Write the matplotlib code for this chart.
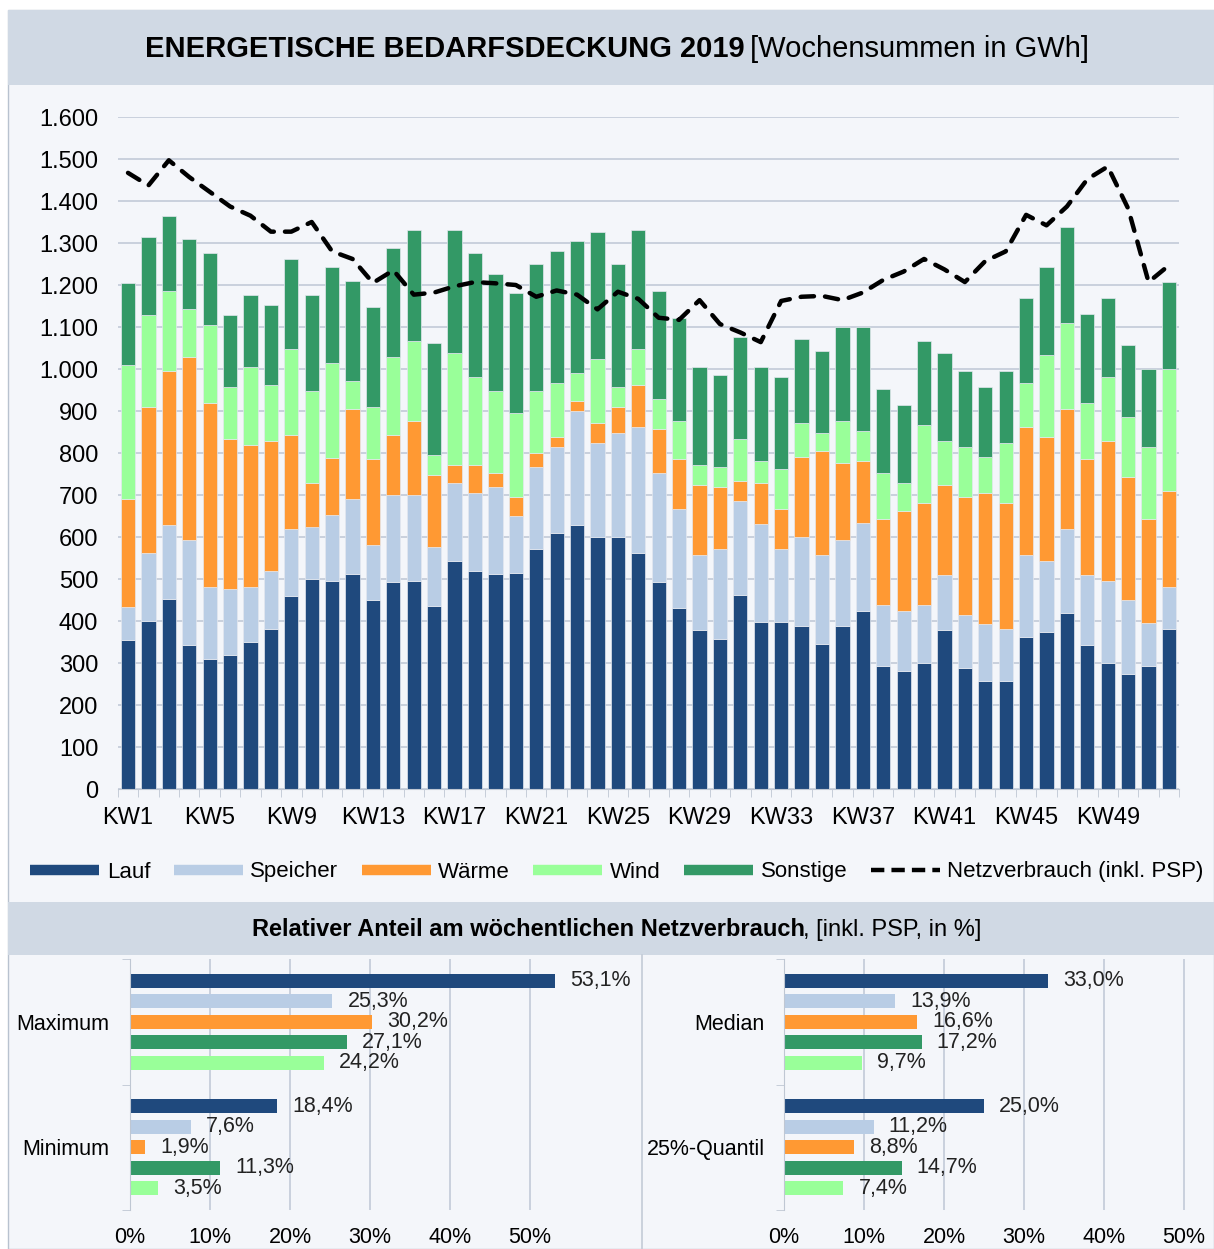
import numpy as np
import matplotlib.pyplot as plt
from matplotlib.lines import Line2D
from matplotlib.patches import Rectangle

plt.rcParams['font.family'] = ['Liberation Sans', 'DejaVu Sans']

# Wochensummen in GWh, KW1 .. KW52
weeks = np.arange(1, 53)
lauf = [354, 401, 453, 344, 310, 320, 349, 382, 459, 501, 496, 511, 449,
        492, 496, 435, 544, 520, 511, 515, 572, 610, 629, 600, 600, 562,
        492, 430, 378, 358, 463, 397, 397, 387, 345, 387, 425, 292, 282,
        301, 378, 287, 258, 258, 363, 373, 420, 344, 301, 273, 292, 382]
speicher = [80, 161, 176, 248, 172, 157, 133, 138, 161, 124, 157, 179, 133,
            208, 204, 141, 184, 184, 209, 134, 195, 204, 271, 224, 247, 300,
            260, 237, 180, 214, 223, 233, 175, 213, 213, 205, 209, 147, 143,
            138, 132, 128, 134, 124, 195, 171, 200, 166, 195, 176, 104, 100]
waerme = [256, 348, 366, 436, 438, 357, 338, 309, 224, 104, 134, 215, 204,
          144, 176, 171, 44, 68, 32, 47, 33, 25, 23, 48, 63, 100,
          105, 119, 166, 148, 48, 99, 95, 191, 247, 184, 147, 205, 237,
          243, 214, 281, 313, 300, 304, 294, 284, 276, 332, 294, 248, 228]
wind = [319, 218, 191, 114, 184, 123, 184, 133, 204, 219, 227, 66, 124,
        184, 190, 49, 265, 208, 196, 200, 147, 127, 68, 152, 47, 86,
        72, 90, 47, 47, 99, 52, 95, 81, 43, 100, 71, 108, 67,
        184, 104, 118, 85, 142, 104, 195, 205, 133, 152, 143, 170, 289]
sonstige = [195, 186, 179, 167, 172, 172, 172, 190, 213, 228, 228, 238, 237,
            261, 266, 265, 295, 296, 279, 284, 304, 314, 313, 303, 294, 284,
            256, 246, 233, 218, 242, 223, 218, 199, 194, 224, 248, 200, 185,
            200, 209, 181, 167, 171, 204, 209, 228, 213, 190, 170, 185, 209]
netz = [1467, 1437, 1497, 1457, 1422, 1387, 1365, 1327, 1327, 1350, 1280,
        1262, 1205, 1235, 1177, 1182, 1197, 1207, 1204, 1200, 1172, 1187,
        1177, 1142, 1184, 1167, 1122, 1117, 1164, 1107, 1087, 1064, 1162,
        1172, 1174, 1164, 1182, 1212, 1232, 1262, 1237, 1207, 1257, 1280,
        1367, 1342, 1387, 1452, 1482, 1382, 1207, 1247]

# relativer Anteil in %: Lauf, Speicher, Wärme, Sonstige, Wind
share_max = [53.1, 25.3, 30.2, 27.1, 24.2]
share_min = [18.4, 7.6, 1.9, 11.3, 3.5]
share_median = [33.0, 13.9, 16.6, 17.2, 9.7]
share_q25 = [25.0, 11.2, 8.8, 14.7, 7.4]

c_lauf = '#1F497D'
c_speicher = '#B9CDE5'
c_waerme = '#FF9933'
c_wind = '#99FF99'
c_sonst = '#339966'
c_band = '#D0D9E4'
c_bg = '#F4F6FA'
c_grid = '#C6CEDA'

W, H = 1214, 1249
fig = plt.figure(figsize=(W / 100, H / 100), dpi=100)
fig.patch.set_facecolor('white')


def px_rect(x0, y0, x1, y1, **kw):
    # Rechteck in Pixelkoordinaten (Ursprung oben links)
    fig.patches.append(Rectangle((x0 / W, 1 - y1 / H), (x1 - x0) / W, (y1 - y0) / H,
                                 transform=fig.transFigure, zorder=-5, **kw))


px_rect(8, 10, W, H, facecolor=c_bg, edgecolor='#B8C2CF', lw=1)
px_rect(8, 10, W, 85, facecolor=c_band, edgecolor='none')
px_rect(8, 902, W, 955, facecolor=c_band, edgecolor='none')
fig.add_artist(Line2D([642 / W, 642 / W], [0, 1 - 955 / H], color='#C3CBD7', lw=1.2,
                      zorder=-4))


def two_part(y, bold, normal, size, gap, cx=617):
    # fetter + normaler Teil, zusammen zentriert
    t1 = fig.text(0, 1 - y / H, bold, fontsize=size, fontweight='bold', va='center', ha='left')
    t2 = fig.text(0, 1 - y / H, normal, fontsize=size, va='center', ha='left')
    r = fig.canvas.get_renderer()
    w1 = t1.get_window_extent(r).width
    w2 = t2.get_window_extent(r).width
    x0 = cx - (w1 + gap + w2) / 2
    t1.set_x(x0 / W)
    t2.set_x((x0 + w1 + gap) / W)


two_part(49, 'ENERGETISCHE BEDARFSDECKUNG 2019', '[Wochensummen in GWh]', 21, 5)
two_part(930, 'Relativer Anteil am wöchentlichen Netzverbrauch', ', [inkl. PSP, in %]', 17, -2)

# Hauptdiagramm
ax = fig.add_axes([117.8 / W, 1 - 789 / H, (1179.2 - 117.8) / W, (789 - 117) / H])
ax.set_facecolor('none')
bottom = np.zeros(len(weeks))
for vals, col, lab in [(lauf, c_lauf, 'Lauf'), (speicher, c_speicher, 'Speicher'),
                       (waerme, c_waerme, 'Wärme'), (wind, c_wind, 'Wind'),
                       (sonstige, c_sonst, 'Sonstige')]:
    ax.bar(weeks, vals, bottom=bottom, width=0.7, color=col, edgecolor='#E4E8EF',
           linewidth=0.5, label=lab, zorder=2)
    bottom += np.array(vals)
ax.plot(weeks, netz, color='black', lw=3.2, linestyle=(0, (3, 2.5)),
        dash_capstyle='round', zorder=3)

ax.set_xlim(0.5, 52.5)
ax.set_ylim(0, 1600)
ax.set_yticks(range(0, 1601, 100))
ax.set_yticklabels([f'{v:,}'.replace(',', '.') for v in range(0, 1601, 100)])
ax.yaxis.grid(True, color=c_grid, lw=1.3)
ax.set_axisbelow(True)
ax.set_xticks(weeks[::4])
ax.set_xticklabels([f'KW{w}' for w in weeks[::4]])
ax.set_xticks(np.arange(0.5, 53, 1), minor=True)
ax.tick_params(axis='y', length=0, pad=14, labelsize=17)
ax.tick_params(axis='x', which='major', length=0, pad=13, labelsize=17)
ax.tick_params(axis='x', which='minor', length=6, color='#BFC7D3')
for s in ['top', 'right', 'left']:
    ax.spines[s].set_visible(False)
ax.spines['bottom'].set_color('#BFC7D3')

handles = [Line2D([0], [0], color=c, lw=7.5, solid_capstyle='butt')
           for c in [c_lauf, c_speicher, c_waerme, c_wind, c_sonst]]
handles.append(Line2D([0], [0], color='black', lw=3.2, linestyle=(0, (3, 1.6))))
fig.legend(handles, ['Lauf', 'Speicher', 'Wärme', 'Wind', 'Sonstige',
                     'Netzverbrauch (inkl. PSP)'],
           loc='center', bbox_to_anchor=(617 / W, 1 - 872 / H), ncol=6, frameon=False,
           fontsize=16, handlelength=3.1, handletextpad=0.35, columnspacing=1.05)

# Anteile
share_colors = [c_lauf, c_speicher, c_waerme, c_sonst, c_wind]
offsets = np.array([-2, -1, 0, 1, 2]) * 0.163


def share_panel(x0, cats, groups, pad):
    a = fig.add_axes([x0 / W, 1 - 1210 / H, 480 / W, 251 / H])
    a.set_facecolor('none')
    a.set_xlim(0, 60)
    a.set_ylim(1.5, -0.5)
    for gi, vals in enumerate(groups):
        a.barh(gi + offsets, vals, height=0.112, color=share_colors, zorder=2)
        for off, v in zip(offsets, vals):
            a.text(v + 1.9, gi + off, f'{v:.1f}%'.replace('.', ','), va='center',
                   ha='left', fontsize=15.5, color='#222222', zorder=3)
    a.set_xticks(range(0, 51, 10))
    a.set_xticklabels([f'{t}%' for t in range(0, 51, 10)])
    a.xaxis.grid(True, color=c_grid, lw=1.3)
    a.set_axisbelow(True)
    a.set_yticks([0, 1])
    a.set_yticklabels(cats)
    a.set_yticks([-0.5, 0.5, 1.5], minor=True)
    a.tick_params(axis='y', which='major', length=0, pad=pad, labelsize=15.5)
    a.tick_params(axis='y', which='minor', length=6, color='#BFC7D3')
    a.tick_params(axis='x', length=0, pad=12, labelsize=15.5)
    for s in ['top', 'right', 'bottom']:
        a.spines[s].set_visible(False)
    a.spines['left'].set_color('#BFC7D3')


share_panel(130, ['Maximum', 'Minimum'], [share_max, share_min], 15)
share_panel(784, ['Median', '25%-Quantil'], [share_median, share_q25], 14)

fig.savefig('out.png', dpi=100, facecolor=fig.get_facecolor())
